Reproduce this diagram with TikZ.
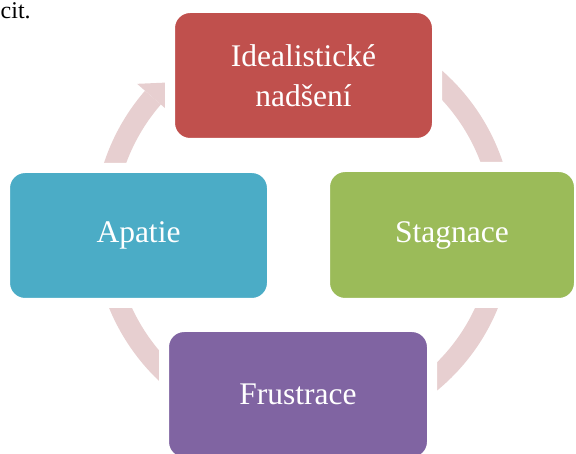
\documentclass[tikz,border=0pt]{standalone}
\usepackage{fontspec}
\setmainfont{Liberation Serif}
\usepackage{xcolor}
\usepackage{tikz}
\usetikzlibrary{calc}

\definecolor{idealred}{RGB}{192,80,77}
\definecolor{staggreen}{RGB}{155,187,89}
\definecolor{apatblue}{RGB}{75,172,198}
\definecolor{frusviolet}{RGB}{128,100,162}
\definecolor{ringpink}{RGB}{231,207,208}

\begin{document}
\begin{tikzpicture}[
    x=1pt, y=1pt,
    phase/.style={
        draw=white,
        line width=10pt,
        rounded corners=20pt,
        align=center,
        text=white,
        minimum width=267pt,
        minimum height=135pt,
        inner sep=0pt,
        font=\fontsize{31.5}{40}\selectfont
    },
    ringline/.style={
        draw=ringpink,
        line width=21pt
    }
]
\useasboundingbox (0,0) rectangle (576,453);
\clip (0,0) rectangle (576,453);

%---------------------------------------------------------------------
% Text left over from the page
%---------------------------------------------------------------------

\node[anchor=base west, inner sep=0pt, font=\fontsize{24}{29}\selectfont] (cit) at (0.5,434.5) {cit.};

%---------------------------------------------------------------------
% Cycle arrow (behind the phases)
%---------------------------------------------------------------------

\coordinate (c) at (303.5,224.5);
\draw[ringline] ($(c)+(80:199.5)$) arc[start angle=80, end angle=-221, radius=199.5];
\fill[ringpink] ($(c)+(139:220.5)$) -- ($(c)+(133.3:200.5)$) -- ($(c)+(139:178.5)$) -- cycle;

%---------------------------------------------------------------------
% Phases
%---------------------------------------------------------------------

\node[phase, fill=idealred] (ideal) at (303.5,377.5) {Idealistické\\nadšení};
\node[phase, fill=staggreen, minimum width=254pt, minimum height=136pt] (stag) at (452,218) {Stagnace};
\node[phase, fill=frusviolet, minimum width=268pt] (frus) at (298,58.5) {Frustrace};
\node[phase, fill=apatblue] (apat) at (138.5,217.5) {Apatie};

\end{tikzpicture}
\end{document}
